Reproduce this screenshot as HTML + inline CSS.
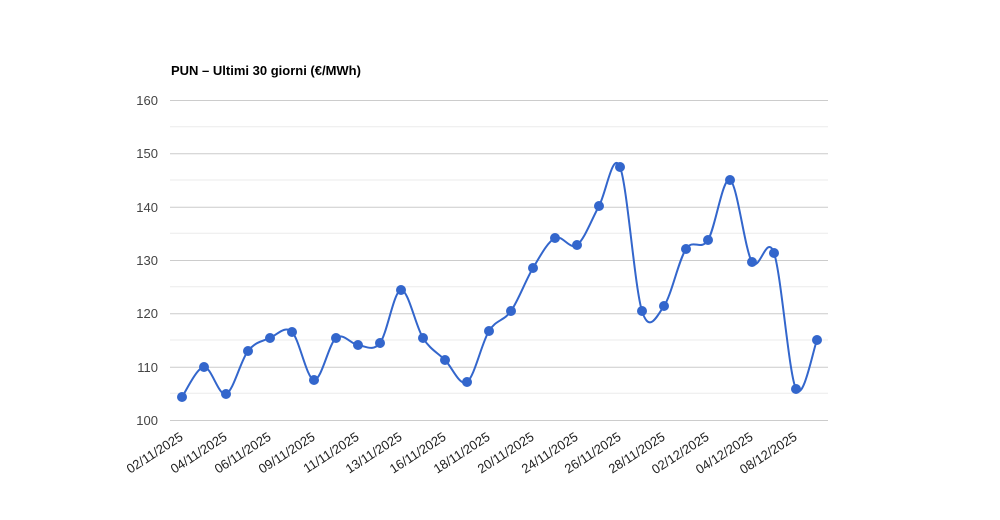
<!DOCTYPE html>
<html><head><meta charset="utf-8"><style>body{margin:0;background:#fff}svg{display:block}</style></head><body>
<svg width="1000" height="520" xmlns="http://www.w3.org/2000/svg" font-family="Liberation Sans, Arial, sans-serif">
<rect width="1000" height="520" fill="#fff"/>
<text x="171" y="75" font-size="13" font-weight="bold" fill="#000">PUN – Ultimi 30 giorni (€/MWh)</text>
<g stroke="#ebebeb" stroke-width="1">
<line x1="170" x2="828" y1="393.3" y2="393.3"/><line x1="170" x2="828" y1="340" y2="340"/><line x1="170" x2="828" y1="286.7" y2="286.7"/><line x1="170" x2="828" y1="233.3" y2="233.3"/><line x1="170" x2="828" y1="180" y2="180"/><line x1="170" x2="828" y1="126.7" y2="126.7"/>
</g>
<g stroke="#ccc" stroke-width="1">
<line x1="170" x2="828" y1="100.5" y2="100.5"/><line x1="170" x2="828" y1="153.8" y2="153.8"/><line x1="170" x2="828" y1="207.2" y2="207.2"/><line x1="170" x2="828" y1="260.5" y2="260.5"/><line x1="170" x2="828" y1="313.8" y2="313.8"/><line x1="170" x2="828" y1="367.2" y2="367.2"/><line x1="170" x2="828" y1="420.5" y2="420.5"/>
</g>
<g font-size="13" fill="#444" text-anchor="end">
<text x="158" y="105">160</text><text x="158" y="158">150</text><text x="158" y="212">140</text><text x="158" y="265">130</text><text x="158" y="318">120</text><text x="158" y="372">110</text><text x="158" y="425">100</text>
</g>
<g id="lbl" font-size="13" fill="#222" text-anchor="end"></g>
<path id="ln" fill="none" stroke="#3366cc" stroke-width="2"/>
<g id="pts" fill="#3366cc"></g>
</svg>
<script>
var P=[[182,397],[204,367],[226,394],[248,351],[270,338],[292,332],[314,380],[336,338],[358,345],[380,343],[401,290],[423,338],[445,360],[467,382],[489,331],[511,311],[533,268],[555,238],[577,245],[599,206],[620,167],[642,311],[664,306],[686,249],[708,240],[730,180],[752,262],[774,253],[796,389],[817,340]];
var L=["02/11/2025","04/11/2025","06/11/2025","09/11/2025","11/11/2025","13/11/2025","16/11/2025","18/11/2025","20/11/2025","24/11/2025","26/11/2025","28/11/2025","02/12/2025","04/12/2025","08/12/2025"];
var ns="http://www.w3.org/2000/svg";
var d="M"+P[0][0]+","+P[0][1];
for(var i=0;i<P.length-1;i++){var p0=P[Math.max(i-1,0)],p1=P[i],p2=P[i+1],p3=P[Math.min(i+2,P.length-1)];
d+=" C"+(p1[0]+(p2[0]-p0[0])/6)+","+(p1[1]+(p2[1]-p0[1])/6)+" "+(p2[0]-(p3[0]-p1[0])/6)+","+(p2[1]-(p3[1]-p1[1])/6)+" "+p2[0]+","+p2[1];}
document.getElementById("ln").setAttribute("d",d);
var g=document.getElementById("pts");
P.forEach(function(p){var c=document.createElementNS(ns,"circle");c.setAttribute("cx",p[0]);c.setAttribute("cy",p[1]);c.setAttribute("r",5);g.appendChild(c);});
var gl=document.getElementById("lbl");
L.forEach(function(t,k){var x=P[2*k][0]+2,y=439;var e=document.createElementNS(ns,"text");e.setAttribute("transform","translate("+x+","+y+") rotate(-33)");e.textContent=t;gl.appendChild(e);});
</script>
</body></html>
